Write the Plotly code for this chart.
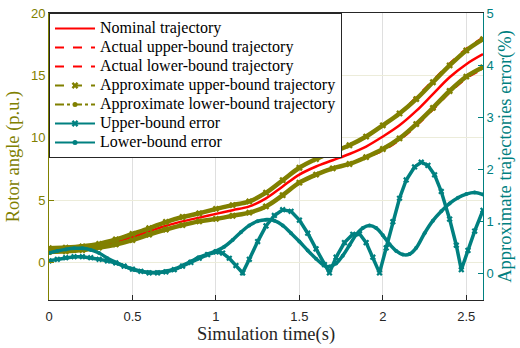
import plotly.graph_objects as go

# ---------------- data ----------------
t_traj = [0.0, 0.1, 0.2, 0.3, 0.4, 0.5, 0.6, 0.7, 0.8, 0.9, 1.0, 1.1, 1.2, 1.3,
          1.4, 1.5, 1.6, 1.7, 1.8, 1.9, 2.0, 2.1, 2.2, 2.3, 2.4, 2.5, 2.6]
nominal = [1.0, 1.05, 1.15, 1.35, 1.65, 2.05, 2.5, 2.95, 3.3, 3.6, 3.9, 4.2, 4.5, 5.15,
           6.1, 7.05, 7.7, 8.2, 8.7, 9.3, 10.1, 11.0, 12.15, 13.5, 14.85, 15.9, 16.7]
actual_upper = [1.15, 1.2, 1.3, 1.5, 1.85, 2.3, 2.75, 3.25, 3.65, 3.95, 4.3, 4.6, 4.9, 5.6,
                6.6, 7.6, 8.3, 8.85, 9.4, 10.1, 11.0, 11.95, 13.2, 14.55, 15.9, 17.1, 18.0]
actual_lower = [0.85, 0.9, 1.0, 1.2, 1.45, 1.8, 2.25, 2.65, 3.0, 3.3, 3.5, 3.75, 4.0, 4.5,
                5.4, 6.4, 7.05, 7.55, 7.9, 8.45, 9.0, 9.85, 11.0, 12.3, 13.65, 14.8, 15.55]
approx_upper = [1.15, 1.2, 1.3, 1.5, 1.85, 2.3, 2.75, 3.25, 3.65, 3.95, 4.3, 4.6, 4.9, 5.6,
                6.6, 7.6, 8.3, 8.85, 9.4, 10.1, 11.0, 11.95, 13.1, 14.45, 15.8, 17.0, 17.9]
approx_lower = [0.85, 0.9, 1.0, 1.2, 1.45, 1.8, 2.25, 2.65, 3.0, 3.3, 3.5, 3.75, 4.0, 4.5,
                5.4, 6.4, 7.05, 7.55, 7.9, 8.45, 9.1, 9.95, 11.1, 12.4, 13.75, 14.9, 15.65]

t_err_up = [0.00, 0.05, 0.10, 0.15, 0.20, 0.25, 0.30, 0.35, 0.40, 0.45, 0.50, 0.55, 0.60,
            0.65, 0.70, 0.75, 0.80, 0.85, 0.90, 0.95, 1.00, 1.04, 1.08, 1.12, 1.16, 1.20,
            1.25, 1.30, 1.35, 1.40, 1.45, 1.50, 1.55, 1.60, 1.65, 1.68, 1.72, 1.77, 1.82,
            1.86, 1.90, 1.94, 1.98, 2.02, 2.06, 2.10, 2.14, 2.19, 2.23, 2.27, 2.31, 2.35,
            2.40, 2.44, 2.47, 2.51, 2.55, 2.60]
err_up = [0.25, 0.28, 0.31, 0.33, 0.33, 0.31, 0.28, 0.25, 0.21, 0.15, 0.09, 0.05, 0.02,
          0.02, 0.04, 0.08, 0.15, 0.22, 0.30, 0.37, 0.42, 0.40, 0.30, 0.16, 0.02, 0.28,
          0.62, 0.92, 1.12, 1.23, 1.20, 1.03, 0.78, 0.48, 0.18, 0.02, 0.32, 0.60, 0.76,
          0.77, 0.60, 0.32, 0.02, 0.50, 1.00, 1.45, 1.80, 2.05, 2.14, 2.08, 1.90, 1.58,
          1.05, 0.55, 0.08, 0.45, 0.82, 1.22]

t_err_lo = [0.00, 0.05, 0.10, 0.15, 0.20, 0.25, 0.30, 0.35, 0.40, 0.45, 0.50, 0.55, 0.60,
            0.65, 0.70, 0.75, 0.80, 0.85, 0.90, 0.95, 1.00, 1.05, 1.10, 1.15, 1.20, 1.25,
            1.30, 1.35, 1.40, 1.45, 1.50, 1.55, 1.60, 1.65, 1.68, 1.72, 1.76, 1.80, 1.84,
            1.88, 1.92, 1.96, 2.00, 2.04, 2.08, 2.12, 2.16, 2.20, 2.25, 2.30, 2.35, 2.40,
            2.45, 2.50, 2.55, 2.60]
err_lo = [0.40, 0.44, 0.47, 0.49, 0.49, 0.46, 0.40, 0.30, 0.22, 0.15, 0.09, 0.05, 0.03,
          0.03, 0.05, 0.09, 0.16, 0.24, 0.32, 0.38, 0.44, 0.52, 0.65, 0.80, 0.93, 1.01,
          1.04, 1.02, 0.93, 0.78, 0.62, 0.45, 0.29, 0.16, 0.14, 0.20, 0.35, 0.55, 0.75,
          0.88, 0.93, 0.88, 0.74, 0.57, 0.44, 0.37, 0.38, 0.50, 0.78, 1.02, 1.20, 1.35,
          1.46, 1.53, 1.56, 1.52]

x_ticks = [0, 0.5, 1, 1.5, 2, 2.5]
x_ticktext = ["0", "0.5", "1", "1.5", "2", "2.5"]
y_ticks = [0, 5, 10, 15, 20]
y2_ticks = [0, 1, 2, 3, 4, 5]

legend_names = ["Nominal trajectory", "Actual upper-bound trajectory",
                "Actual lower-bound trajectory", "Approximate upper-bound trajectory",
                "Approximate lower-bound trajectory", "Upper-bound error", "Lower-bound error"]

RED = "#ff0000"
OLIVE = "#808000"
TEAL = "#008080"
DARK = "#262626"
SERIF = "Liberation Serif, Times New Roman, serif"
SANS = "Liberation Sans, Arial, sans-serif"

fig = go.Figure()

# ---- legend-only entries ----
leg_styles = [
    dict(line=dict(color=RED, width=2), mode="lines"),
    dict(line=dict(color=RED, width=2, dash="dash"), mode="lines"),
    dict(line=dict(color=RED, width=2, dash="dash"), mode="lines"),
    dict(line=dict(color=OLIVE, width=2, dash="dash"), mode="lines+markers",
         marker=dict(symbol="x", size=6, color=OLIVE)),
    dict(line=dict(color=OLIVE, width=2, dash="dashdot"), mode="lines+markers",
         marker=dict(symbol="circle", size=5, color=OLIVE)),
    dict(line=dict(color=TEAL, width=2), mode="lines+markers",
         marker=dict(symbol="x", size=6, color=TEAL)),
    dict(line=dict(color=TEAL, width=2), mode="lines+markers",
         marker=dict(symbol="circle", size=5, color=TEAL)),
]
for name, st in zip(legend_names, leg_styles):
    fig.add_trace(go.Scatter(x=[None], y=[None],
                             name="<span style='font-size:16px'>" + name + "</span>",
                             showlegend=True, **st))

# ---- data traces (left axis) ----
fig.add_trace(go.Scatter(x=t_traj, y=actual_upper, mode="lines", showlegend=False,
                         line=dict(color=RED, width=3, dash="dash", shape="spline")))
fig.add_trace(go.Scatter(x=t_traj, y=actual_lower, mode="lines", showlegend=False,
                         line=dict(color=RED, width=3, dash="dash", shape="spline")))
fig.add_trace(go.Scatter(x=t_traj, y=nominal, mode="lines", showlegend=False,
                         line=dict(color=RED, width=2.5, shape="spline")))
fig.add_trace(go.Scatter(x=t_traj, y=approx_upper, mode="lines+markers", showlegend=False,
                         line=dict(color=OLIVE, width=4.5, shape="spline"),
                         marker=dict(symbol="x", size=6, color=OLIVE)))
fig.add_trace(go.Scatter(x=t_traj, y=approx_lower, mode="lines+markers", showlegend=False,
                         line=dict(color=OLIVE, width=4.5, shape="spline"),
                         marker=dict(symbol="x", size=6, color=OLIVE)))

# ---- error traces (right axis) ----
fig.add_trace(go.Scatter(x=t_err_up, y=err_up, yaxis="y2", mode="lines+markers", showlegend=False,
                         line=dict(color=TEAL, width=3.5),
                         marker=dict(symbol="x", size=5.5, color=TEAL)))
fig.add_trace(go.Scatter(x=t_err_lo, y=err_lo, yaxis="y2", mode="lines+markers", showlegend=False,
                         line=dict(color=TEAL, width=3.5, shape="spline"),
                         marker=dict(symbol="circle", size=4, color=TEAL)))

fig.update_layout(
    width=520, height=348,
    margin=dict(l=49, r=37, t=13, b=48, autoexpand=False),
    plot_bgcolor="white", paper_bgcolor="white",
    showlegend=True,
    legend=dict(x=0, y=1, xanchor="left", yanchor="top", bgcolor="white",
                bordercolor=DARK, borderwidth=1, font=dict(family=SERIF, size=12, color="black"),
                tracegroupgap=0, itemwidth=40),
    xaxis=dict(range=[0, 2.6], tickvals=x_ticks, ticktext=x_ticktext,
               showgrid=True, gridcolor="#dfdfdf", gridwidth=1, zeroline=False,
               showline=True, linecolor=DARK, linewidth=1, mirror=True,
               ticks="inside", ticklen=5, tickcolor=DARK, ticklabelstandoff=4,
               tickfont=dict(family=SANS, size=13, color=DARK),
               title=dict(text="Simulation time(s)", font=dict(family=SERIF, size=18.5, color=DARK),
                          standoff=2)),
    yaxis=dict(range=[-3, 20], tickvals=y_ticks, showgrid=True, gridcolor="#ececda",
               zeroline=False, showline=True, linecolor=OLIVE, linewidth=1,
               ticks="inside", ticklen=5, tickcolor=OLIVE,
               tickfont=dict(family=SANS, size=13, color=OLIVE),
               title=dict(text="Rotor angle (p.u.)", font=dict(family=SERIF, size=18.5, color=OLIVE),
                          standoff=6)),
    yaxis2=dict(range=[-0.5, 5], tickvals=y2_ticks, overlaying="y", side="right",
                showgrid=False, zeroline=False, showline=True, linecolor=TEAL, linewidth=1,
                ticks="inside", ticklen=5, tickcolor=TEAL,
                tickfont=dict(family=SANS, size=13, color=TEAL),
                title=dict(text="Approximate trajectories error(%)",
                           font=dict(family=SERIF, size=18.5, color=TEAL), standoff=5)),
)

fig.write_html("out.html")
